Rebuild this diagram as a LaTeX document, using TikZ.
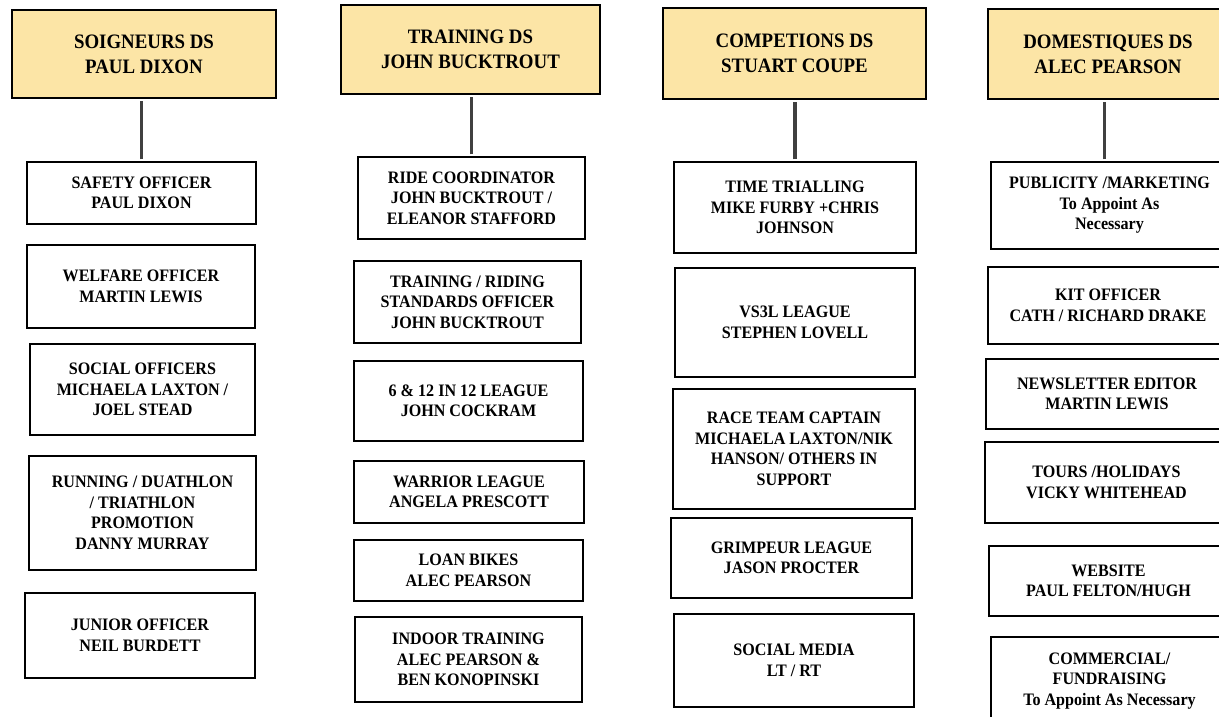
\documentclass[tikz,border=0pt]{standalone}
\usepackage{fontspec}
\setmainfont{Liberation Serif}[FakeStretch=0.92]
\usetikzlibrary{positioning}
\definecolor{headfill}{RGB}{252,229,166}
\definecolor{linkgray}{RGB}{64,64,64}
\tikzset{
  head/.style={draw, fill=headfill, line width=1.3pt, inner sep=0pt, align=center,
    font=\bfseries\fontsize{20.5}{25}\selectfont},
  post/.style={draw, line width=1.3pt, inner sep=0pt, align=center,
    font=\bfseries\fontsize{17.5}{20.5}\selectfont},
  link/.style={draw=linkgray, line width=3.5pt, shorten <=2pt, shorten >=2pt}
}

\begin{document}
\begin{tikzpicture}[x=1pt, y=-1pt]
            \useasboundingbox (0,0) rectangle (1219,717);
            \clip (0,0) rectangle (1219,717);

            % directors
            \node[head, minimum width=264, minimum height=88] (H1) at (144,54) {SOIGNEURS DS\\PAUL DIXON};
            \node[head, minimum width=259, minimum height=89] (H2) at (470.5,49.5) {TRAINING DS\\JOHN BUCKTROUT};
            \node[head, minimum width=263, minimum height=91] (H3) at (794.5,53.5) {COMPETIONS DS\\STUART COUPE};
            \node[head, minimum width=240, minimum height=90] (H4) at (1108,54) {DOMESTIQUES DS\\ALEC PEARSON};

            % soigneurs
            \node[post, minimum width=229, minimum height=62] (S1) at (141.5,193) {SAFETY OFFICER\\PAUL DIXON};
            \node[post, minimum width=228, minimum height=83] (S2) at (141,286.5) {WELFARE OFFICER\\MARTIN LEWIS};
            \node[post, minimum width=225, minimum height=91] (S3) at (142.5,389.5) {SOCIAL OFFICERS\\MICHAELA LAXTON /\\JOEL STEAD};
            \node[post, minimum width=227, minimum height=114] (S4) at (142.5,513) {RUNNING / DUATHLON\\/ TRIATHLON\\PROMOTION\\DANNY MURRAY};
            \node[post, minimum width=230, minimum height=85] (S5) at (140,635.5) {JUNIOR OFFICER\\NEIL BURDETT};

            % training
            \node[post, minimum width=227, minimum height=82] (T1) at (471.5,198) {RIDE COORDINATOR\\JOHN BUCKTROUT /\\ELEANOR STAFFORD};
            \node[post, minimum width=227, minimum height=82] (T2) at (467.5,302) {TRAINING / RIDING\\STANDARDS OFFICER\\JOHN BUCKTROUT};
            \node[post, minimum width=229, minimum height=80] (T3) at (468.5,401) {6 \& 12 IN 12 LEAGUE\\JOHN COCKRAM};
            \node[post, minimum width=230, minimum height=62] (T4) at (469,492) {WARRIOR LEAGUE\\ANGELA PRESCOTT};
            \node[post, minimum width=229, minimum height=61] (T5) at (468.5,570.5) {LOAN BIKES\\ALEC PEARSON};
            \node[post, minimum width=227, minimum height=85] (T6) at (468.5,659.5) {INDOOR TRAINING\\ALEC PEARSON \&\\BEN KONOPINSKI};

            % competitions
            \node[post, minimum width=242, minimum height=91] (C1) at (795,207.5) {TIME TRIALLING\\MIKE FURBY +CHRIS\\JOHNSON};
            \node[post, minimum width=240, minimum height=109] (C2) at (795,322.5) {VS3L LEAGUE\\STEPHEN LOVELL};
            \node[post, minimum width=242, minimum height=120] (C3) at (794,449) {RACE TEAM CAPTAIN\\MICHAELA LAXTON/NIK\\HANSON/ OTHERS IN\\SUPPORT};
            \node[post, minimum width=241, minimum height=80] (C4) at (791.5,558) {GRIMPEUR LEAGUE\\JASON PROCTER};
            \node[post, minimum width=240, minimum height=93] (C5) at (794,660.5) {SOCIAL MEDIA\\LT / RT};

            % domestiques
            \node[post, minimum width=237, minimum height=87] (D1) at (1109.5,205.5) {PUBLICITY /MARKETING\\To Appoint As\\Necessary};
            \node[post, minimum width=240, minimum height=77] (D2) at (1108,305.5) {KIT OFFICER\\CATH / RICHARD DRAKE};
            \node[post, minimum width=242, minimum height=70] (D3) at (1107,394) {NEWSLETTER EDITOR\\MARTIN LEWIS};
            \node[post, minimum width=243, minimum height=81] (D4) at (1106.5,482.5) {TOURS /HOLIDAYS\\VICKY WHITEHEAD};
            \node[post, minimum width=239, minimum height=70] (D5) at (1108.5,581) {WEBSITE\\PAUL FELTON/HUGH};
            \node[post, minimum width=237, minimum height=88] (D6) at (1109.5,681) {COMMERCIAL/\\FUNDRAISING\\To Appoint As Necessary};

            \draw[link] (S1.north) -- (S1.north |- H1.south);
            \draw[link] (T1.north) -- (T1.north |- H2.south);
            \draw[link] (C1.north) -- (C1.north |- H3.south);
            \draw[link] ([xshift=-5pt]D1.north) -- ([xshift=-5pt]D1.north |- H4.south);
\end{tikzpicture}
\end{document}
